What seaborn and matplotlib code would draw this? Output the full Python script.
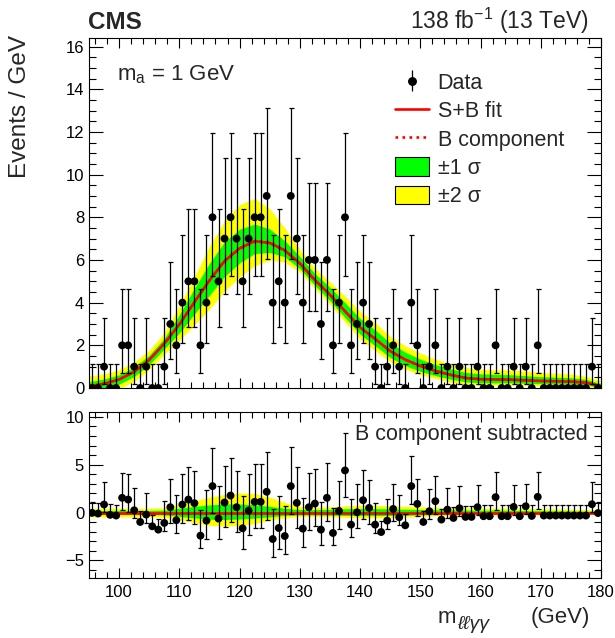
import numpy as np
import matplotlib
matplotlib.use("Agg")
import matplotlib.pyplot as plt
import seaborn as sns
from matplotlib.patches import Patch
from matplotlib.lines import Line2D
from matplotlib.ticker import MultipleLocator

# ---------------- data ----------------
bin_lo, bin_width = 95.0, 1.0
counts = [0, 0, 1, 0, 0, 2, 2, 1, 0, 1,
          0, 0, 1, 3, 2, 4, 5, 5, 2, 4,
          8, 5, 7, 8, 7, 5, 7, 8, 8, 9,
          4, 5, 4, 9, 7, 4, 6, 6, 3, 6,
          2, 4, 8, 2, 3, 4, 3, 1, 0, 1,
          2, 1, 0, 4, 2, 0, 1, 2, 0, 1,
          0, 1, 0, 0, 1, 0, 0, 2, 0, 0,
          1, 0, 1, 0, 2, 0, 0, 0, 0, 0,
          0, 0, 0, 1, 0]

# data minus B component (lower panel)
resid = [-0.03, -0.10, 0.84, -0.24, -0.31, 1.54, 1.36, 0.24, -0.98, -0.21,
         -1.43, -1.78, -1.08, 0.56, -0.80, 0.84, 1.36, 0.98, -2.41, -0.84,
         2.76, -0.63, 1.05, 1.78, 0.56, -1.64, 0.21, 1.12, 1.12, 2.17,
         -2.76, -1.61, -2.45, 2.76, 1.01, -1.68, 0.56, 0.94, -1.78, 1.54,
         -2.13, 0.17, 4.40, -1.26, 0.03, 1.29, 0.49, -1.26, -2.03, -0.84,
         0.38, -0.49, -1.33, 2.76, 0.91, -0.98, 0.14, 1.19, -0.73, 0.31,
         -0.56, 0.45, -0.45, -0.45, 0.56, -0.38, -0.38, 1.61, -0.38, -0.38,
         0.59, -0.38, 0.66, -0.35, 1.64, -0.31, -0.31, -0.31, -0.31, -0.31,
         -0.31, -0.31, -0.31, 0.87, -0.05]

# Poisson (Garwood) interval edges for n = 0..9
pois_lo = [0.0, 0.173, 0.708, 1.367, 2.086, 2.840, 3.620, 4.419, 5.232, 6.057]
pois_hi = [1.148, 3.300, 4.638, 5.918, 7.163, 8.382, 9.584, 10.77, 11.95, 13.11]

# S+B fit curve
fit_x = [95, 97.5, 100, 102.5, 105, 107.5, 110, 112.5, 115, 117.5, 120, 122.5,
         125, 127.5, 130, 132.5, 135, 137.5, 140, 142.5, 145, 147.5, 150, 152.5,
         155, 157.5, 160, 165, 170, 175, 177.5, 180]
fit_y = [0.08, 0.20, 0.40, 0.76, 1.32, 2.08, 2.98, 4.02, 5.04, 5.95, 6.54, 6.88,
         6.80, 6.45, 5.84, 5.06, 4.37, 3.60, 2.84, 2.30, 1.73, 1.33, 1.03, 0.80,
         0.62, 0.47, 0.41, 0.39, 0.33, 0.30, 0.25, 0.08]

# upper panel uncertainty bands
up2_lo = [-0.37, -0.25, -0.05, 0.31, 0.87, 1.58, 2.23, 2.97, 3.69, 4.55, 5.19, 5.73,
          6.00, 5.90, 5.44, 4.66, 3.92, 3.10, 2.29, 1.75, 1.23, 0.88, 0.63, 0.45,
          0.27, 0.17, 0.11, 0.14, 0.11, 0.10, 0.07, -0.07]
up1_lo = [-0.14, -0.02, 0.18, 0.54, 1.10, 1.83, 2.58, 3.47, 4.34, 5.23, 5.86, 6.30,
          6.35, 6.15, 5.59, 4.81, 4.09, 3.30, 2.52, 1.98, 1.43, 1.05, 0.78, 0.58,
          0.42, 0.29, 0.24, 0.24, 0.20, 0.18, 0.15, 0.00]
up1_hi = [0.30, 0.42, 0.62, 0.98, 1.54, 2.33, 3.43, 4.67, 5.84, 6.85, 7.44, 7.68,
          7.45, 6.90, 6.16, 5.36, 4.72, 4.00, 3.26, 2.72, 2.11, 1.68, 1.35, 1.10,
          0.90, 0.73, 0.66, 0.62, 0.53, 0.48, 0.41, 0.21]
up2_hi = [0.53, 0.65, 0.85, 1.21, 1.77, 2.58, 3.83, 5.22, 6.64, 7.85, 8.59, 8.88,
          8.40, 7.50, 6.49, 5.61, 4.97, 4.30, 3.59, 3.05, 2.43, 1.98, 1.63, 1.35,
          1.12, 0.97, 0.86, 0.84, 0.73, 0.65, 0.55, 0.33]

# lower panel bands (B component subtracted)
lo2_lo = [-0.45, -0.45, -0.45, -0.45, -0.45, -0.50, -0.75, -1.05, -1.35, -1.40, -1.35, -1.15,
          -0.80, -0.55, -0.40, -0.40, -0.45, -0.50, -0.55, -0.55, -0.50, -0.45, -0.40, -0.35,
          -0.35, -0.30, -0.30, -0.25, -0.22, -0.20, -0.18, -0.15]
lo1_lo = [-0.22, -0.22, -0.22, -0.22, -0.22, -0.25, -0.40, -0.55, -0.70, -0.72, -0.68, -0.58,
          -0.45, -0.30, -0.25, -0.25, -0.28, -0.30, -0.32, -0.32, -0.30, -0.28, -0.25, -0.22,
          -0.20, -0.18, -0.17, -0.15, -0.13, -0.12, -0.10, -0.08]
lo1_hi = [0.22, 0.22, 0.22, 0.22, 0.22, 0.25, 0.45, 0.65, 0.80, 0.90, 0.90, 0.80,
          0.65, 0.45, 0.32, 0.30, 0.35, 0.40, 0.42, 0.42, 0.38, 0.35, 0.32, 0.30,
          0.28, 0.26, 0.25, 0.23, 0.20, 0.18, 0.16, 0.13]
lo2_hi = [0.45, 0.45, 0.45, 0.45, 0.45, 0.50, 0.85, 1.20, 1.60, 1.90, 2.05, 2.00,
          1.60, 1.05, 0.65, 0.55, 0.60, 0.70, 0.75, 0.75, 0.70, 0.65, 0.60, 0.55,
          0.50, 0.50, 0.45, 0.45, 0.40, 0.35, 0.30, 0.25]

x_ticks = [100, 110, 120, 130, 140, 150, 160, 170, 180]
# ---------------------------------------------------------------

centers = bin_lo + bin_width * (np.arange(len(counts)) + 0.5)
cnt = np.array(counts)
err_lo = cnt - np.array(pois_lo)[cnt]
err_hi = np.array(pois_hi)[cnt] - cnt

sns.set_theme(style="ticks")
plt.rcParams["font.family"] = ["Liberation Sans", "DejaVu Sans"]
plt.rcParams["mathtext.fontset"] = "custom"
plt.rcParams["mathtext.rm"] = "Liberation Sans"
plt.rcParams["mathtext.it"] = "Liberation Sans:italic"
plt.rcParams["mathtext.bf"] = "Liberation Sans:bold"
plt.rcParams["axes.linewidth"] = 0.8
plt.rcParams["axes.edgecolor"] = "black"

YELLOW = "#ffff00"
GREEN = "#00ff00"
RED = "#ff0000"

W, H = 615, 638
fig = plt.figure(figsize=(W / 100, H / 100), dpi=100)
L, R = 89, 601
ax1 = fig.add_axes([L / W, 1 - 388 / H, (R - L) / W, 350 / H])
ax2 = fig.add_axes([L / W, 1 - 578 / H, (R - L) / W, 166 / H])

# ---- upper panel ----
ax1.fill_between(fit_x, up2_lo, up2_hi, color=YELLOW, lw=0, zorder=1)
ax1.fill_between(fit_x, up1_lo, up1_hi, color=GREEN, lw=0, zorder=2)
sns.lineplot(x=fit_x, y=fit_y, ax=ax1, color=RED, lw=1.8, ls=":", estimator=None, sort=False, zorder=3)
sns.lineplot(x=fit_x, y=fit_y, ax=ax1, color=RED, lw=1.9, estimator=None, sort=False, zorder=4)
ax1.errorbar(centers, counts, yerr=[err_lo, err_hi], fmt="none", ecolor="black",
             elinewidth=0.9, capsize=1.8, capthick=0.9, zorder=5)
sns.scatterplot(x=centers, y=counts, ax=ax1, color="black", s=32, edgecolor="none", zorder=6)

ax1.set_xlim(95, 180)
ax1.set_ylim(0, 16.4)
ax1.xaxis.set_major_locator(MultipleLocator(10))
ax1.xaxis.set_minor_locator(MultipleLocator(2))
ax1.yaxis.set_major_locator(MultipleLocator(2))
ax1.yaxis.set_minor_locator(MultipleLocator(0.5))
ax1.tick_params(axis="x", which="both", labelbottom=False)

# ---- lower panel ----
ax2.fill_between(fit_x, lo2_lo, lo2_hi, color=YELLOW, lw=0, zorder=1)
ax2.fill_between(fit_x, lo1_lo, lo1_hi, color=GREEN, lw=0, zorder=2)
ax2.axhline(0, color=RED, lw=1.9, zorder=3)
ax2.errorbar(centers, resid, yerr=[err_lo, err_hi], fmt="none", ecolor="black",
             elinewidth=0.9, capsize=1.8, capthick=0.9, zorder=5)
sns.scatterplot(x=centers, y=resid, ax=ax2, color="black", s=32, edgecolor="none", zorder=6)
ax2.set_xlim(95, 180)
ax2.set_ylim(-6.83, 10.5)
ax2.set_xticks(x_ticks)
ax2.xaxis.set_minor_locator(MultipleLocator(2))
ax2.yaxis.set_major_locator(MultipleLocator(5))
ax2.yaxis.set_minor_locator(MultipleLocator(1))

for ax in (ax1, ax2):
    ax.set_xlabel("")
    ax.set_ylabel("")
    for s in ax.spines.values():
        s.set_visible(True)
        s.set_linewidth(0.8)
        s.set_color("black")
    ax.tick_params(which="both", direction="in", top=True, right=True,
                   colors="black", width=0.8, labelsize=12, labelcolor="black")
    ax.tick_params(axis="x", which="major", length=7.5, pad=5)
    ax.tick_params(axis="x", which="minor", length=4)
    ax.tick_params(axis="y", which="major", length=10, pad=3.5)
    ax.tick_params(axis="y", which="minor", length=5)

# ---- legend ----
h_data = ax1.errorbar([], [], yerr=[[], []], fmt="o", color="black", ms=5.4,
                      elinewidth=0.9, capsize=2.2, capthick=0.9)
handles = [
    h_data,
    Line2D([], [], color=RED, lw=1.9),
    Line2D([], [], color=RED, lw=1.9, ls=":"),
    Patch(facecolor=GREEN, edgecolor="black", lw=0.8),
    Patch(facecolor=YELLOW, edgecolor="black", lw=0.8),
]
labels = ["Data", "S+B fit", "B component", "±1 σ", "±2 σ"]
ax1.legend(handles, labels, loc="upper left", bbox_to_anchor=(0.598, 0.902),
           frameon=False, fontsize=15.5, borderpad=0, borderaxespad=0,
           handlelength=1.55, handleheight=0.95, handletextpad=0.42,
           labelspacing=0.31)

# ---- texts ----
ax1.text(0.055, 0.88, r"m$_\mathregular{a}$ = 1 GeV", transform=ax1.transAxes,
         fontsize=16, ha="left", va="baseline")
ax2.text(0.975, 0.831, "B component subtracted", transform=ax2.transAxes,
         fontsize=15.5, ha="right", va="baseline")
fig.text(88 / W, 1 - 29 / H, "CMS", fontsize=17.5, fontweight="bold",
         ha="left", va="baseline")
fig.text(589 / W, 1 - 29 / H, r"138 fb$^{\mathregular{-1}}$ (13 TeV)", fontsize=16.5,
         ha="right", va="baseline")
fig.text(20 / W, 1 - 35 / H, "Events / GeV", fontsize=17.5, rotation=90,
         ha="center", va="top")
# x-axis title: m with a larger italic subscript, then the unit
fig.text(438 / W, 1 - 623 / H, "m", fontsize=16, ha="left", va="baseline")
fig.text(457 / W, 1 - 629 / H, "ℓℓγγ", fontsize=14, style="italic",
         ha="left", va="baseline")
fig.text(590 / W, 1 - 623 / H, "(GeV)", fontsize=16, ha="right", va="baseline")

fig.savefig("out.png", dpi=100)
